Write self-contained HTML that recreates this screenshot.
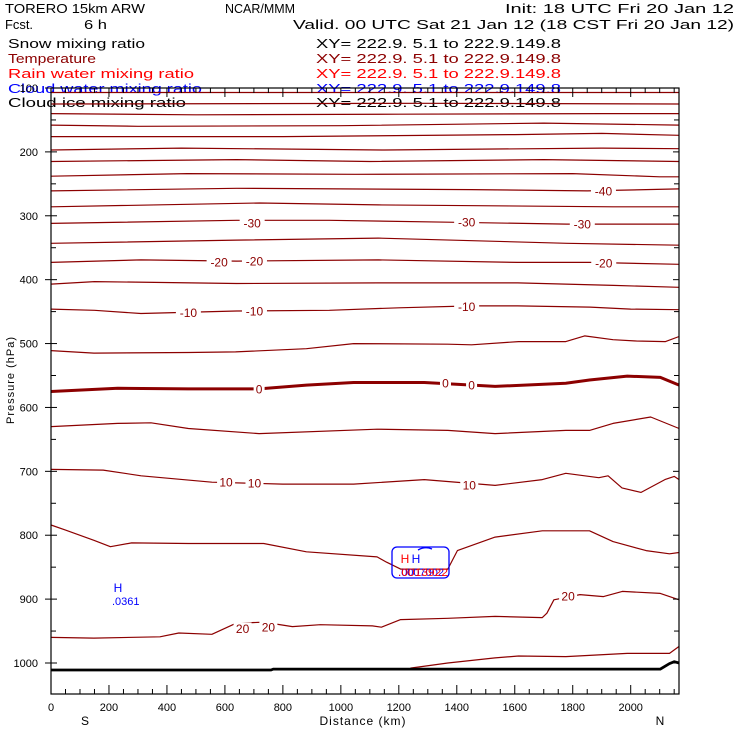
<!DOCTYPE html>
<html><head><meta charset="utf-8"><style>
html,body{margin:0;padding:0;background:#fff;}
svg{display:block;}
text{font-family:"Liberation Sans",sans-serif;}
.hd{font-family:"Liberation Sans",sans-serif;font-size:13px;}
</style></head><body>
<svg id="chart" width="740" height="740" viewBox="0 0 740 740" xmlns="http://www.w3.org/2000/svg">
<g>
<text class="hd" x="5" y="13" textLength="140" lengthAdjust="spacingAndGlyphs">TORERO   15km  ARW</text>
<text class="hd" x="225" y="13" textLength="70" lengthAdjust="spacingAndGlyphs">NCAR/MMM</text>
<text class="hd" x="505" y="13" textLength="229" lengthAdjust="spacingAndGlyphs">Init: 18 UTC Fri 20 Jan 12</text>
<text class="hd" x="5" y="29" textLength="28" lengthAdjust="spacingAndGlyphs">Fcst.</text>
<text class="hd" x="84" y="29" textLength="23" lengthAdjust="spacingAndGlyphs">6 h</text>
<text class="hd" x="293" y="29" textLength="441" lengthAdjust="spacingAndGlyphs">Valid. 00 UTC Sat 21 Jan 12 (18 CST Fri 20 Jan 12)</text>
<text class="hd" x="8" y="48" textLength="137" lengthAdjust="spacingAndGlyphs" fill="#000">Snow mixing ratio</text>
<text class="hd" x="8" y="63" textLength="88" lengthAdjust="spacingAndGlyphs" fill="#8c0000">Temperature</text>
<text class="hd" x="8" y="78" textLength="186" lengthAdjust="spacingAndGlyphs" fill="#ff0000">Rain water mixing ratio</text>
<text class="hd" x="8" y="93" textLength="194" lengthAdjust="spacingAndGlyphs" fill="#0000ff">Cloud water mixing ratio</text>
<text class="hd" x="8" y="107" textLength="178" lengthAdjust="spacingAndGlyphs" fill="#000">Cloud ice mixing ratio</text>
<text class="hd" x="316" y="48" textLength="245" lengthAdjust="spacingAndGlyphs" fill="#000">XY= 222.9.   5.1 to 222.9.149.8</text>
<text class="hd" x="316" y="63" textLength="245" lengthAdjust="spacingAndGlyphs" fill="#8c0000">XY= 222.9.   5.1 to 222.9.149.8</text>
<text class="hd" x="316" y="78" textLength="245" lengthAdjust="spacingAndGlyphs" fill="#ff0000">XY= 222.9.   5.1 to 222.9.149.8</text>
<text class="hd" x="316" y="93" textLength="245" lengthAdjust="spacingAndGlyphs" fill="#0000ff">XY= 222.9.   5.1 to 222.9.149.8</text>
<text class="hd" x="316" y="107" textLength="245" lengthAdjust="spacingAndGlyphs" fill="#000">XY= 222.9.   5.1 to 222.9.149.8</text>
</g>
<g id="plot"></g>
</svg>
<script>
// Data
const xTicks = [0,200,400,600,800,1000,1200,1400,1600,1800,2000];
const yTicks = [100,200,300,400,500,600,700,800,900,1000];
const tempContours = [
 [[0,107],[2167,107]],
 [[0,125],[1300,124],[2167,125]],
 [[0,140],[500,142],[1200,141],[1900,140],[2167,140]],
 [[0,158],[300,160],[1000,159],[1700,155],[2167,158]],
 [[0,176],[800,176],[1600,173],[1900,171],[2167,174]],
 [[0,197],[450,194],[1150,197],[1900,194],[2167,195]],
 [[0,215],[640,212],[1100,215],[1700,212],[2167,215]],
 [[0,238],[470,234],[1050,235],[1800,234],[2100,239],[2167,239]],
 [[0,261],[640,257],[1450,259],[1850,261],[2167,258]],
 [[0,286],[720,280],[1130,283],[1940,286],[2167,286]],
 [[0,312],[640,307],[960,307],[1370,310],[1780,313],[2167,313]],
 [[0,343],[640,338],[1130,335],[1780,343],[2167,346]],
 [[0,373],[310,369],[640,371],[1130,369],[1610,373],[1860,373],[2167,376]],
 [[0,407],[150,403],[640,406],[1130,405],[1610,405],[1940,409],[2167,412]],
 [[0,446],[150,448],[310,453],[640,449],[960,448],[1200,444],[1450,441],[1610,441],[1860,443],[2000,446],[2167,447]],
 [[0,511],[148,515],[474,514],[637,513],[881,508],[1044,500],[1369,501],[1451,502],[1613,497],[1776,497],[1841,488],[1939,494],[2020,496],[2120,497],[2167,489]],
 [[0,630],[230,625],[345,624],[474,633],[718,641],[1125,634],[1369,636],[1532,641],[1776,636],[1858,636],[1939,625],[2069,615],[2167,633]],
 [[0,697],[180,698],[311,707],[555,717],[799,720],[1044,720],[1288,713],[1532,722],[1695,713],[1776,703],[1890,710],[1922,707],[1970,726],[2036,733],[2118,713],[2150,708],[2167,713]],
 [[0,784],[50,792],[148,808],[205,818],[278,812],[474,813],[734,813],[881,826],[1125,834],[1157,842],[1206,853],[1369,853],[1402,824],[1532,803],[1695,793],[1858,793],[1939,810],[2053,824],[2134,829],[2167,827]],
 [[0,960],[148,961],[376,959],[441,953],[555,955],[637,938],[734,936],[833,943],[929,940],[1109,942],[1140,944],[1206,932],[1369,930],[1532,927],[1695,929],[1711,922],[1735,901],[1825,893],[1906,896],[1971,888],[2102,891],[2167,901]],
 [[1240,1008],[1369,1000],[1532,992],[1613,989],[1776,990],[1988,985],[2134,985],[2167,974]]
];
const zeroContour = [[0,575],[230,570],[474,571],[718,571],[881,565],[1044,561],[1288,561],[1532,567],[1776,562],[1858,557],[1988,551],[2102,553],[2167,565]];
const groundLine = [[0,1011],[759,1011],[767,1009.5],[2102,1009.5],[2134,1001],[2150,998],[2167,1000]];
const contourLabels = [
 [1906,261,"-40"],[694,311,"-30"],[1434,310,"-30"],[1833,313,"-30"],
 [580,372,"-20"],[702,371,"-20"],[1907,374,"-20"],
 [474,451,"-10"],[702,449,"-10"],[1434,442,"-10"],
 [718,571,"0"],[1361,562,"0"],[1451,565,"0"],
 [604,717,"10"],[702,718,"10"],[1443,721,"10"],
 [661,946,"20"],[750,944,"20"],[1784,895,"20"]
];
const maxLabels = [[230,"H",".0361","#0000ff"]];

// Axes
const X0=51,X1=679,Y0=88,Y1=694;
const KM_MAX=2167, P_TOP=100;
function xs(km){return X0+km*(630.7-51)/2000;}
function ys(p){return Y0+(p-P_TOP)*(663-88)/900;}
const NS="http://www.w3.org/2000/svg";
const plot=document.getElementById('plot');
function mk(tag,attrs,parent){const e=document.createElementNS(NS,tag);for(const k in attrs)e.setAttribute(k,attrs[k]);(parent||plot).appendChild(e);return e;}
function pathD(pts){return pts.map((p,i)=>(i?'L':'M')+xs(p[0]).toFixed(1)+' '+ys(p[1]).toFixed(1)).join(' ');}

tempContours.forEach((c,i)=>{
 const e=mk('path',{d:pathD(c),fill:'none',stroke:'#8c0000','stroke-width':1.2,'stroke-linejoin':'round'});
 
 
});
const z=mk('path',{d:pathD(zeroContour),fill:'none',stroke:'#8c0000','stroke-width':3});


const g=mk('path',{d:pathD(groundLine),fill:'none',stroke:'#000','stroke-width':2.8});



contourLabels.forEach(l=>{
 const cx=xs(l[0]),cy=ys(l[1]);
 const w=l[2].length*7+4;
 const r=mk('rect',{x:cx-w/2,y:cy-6,width:w,height:12,fill:'#fff'});
 
 
 const t=mk('text',{x:cx,y:cy+4.5,'text-anchor':'middle','font-size':12,fill:'#8c0000'});
 t.textContent=l[2];
 
 
});

const box=mk('rect',{x:392,y:547,width:57,height:31,rx:5,fill:'none',stroke:'#0000ff','stroke-width':1.3});


const arc=mk('path',{d:'M418 550 Q425 546 432 549',fill:'none',stroke:'#0000ff','stroke-width':1.3});


[[405,'#ff0000'],[416,'#0000ff']].forEach(h=>{
 const t=mk('text',{x:h[0],y:563,'text-anchor':'middle','font-size':12,fill:h[1]});
 t.textContent='H';
 
 
});
const v1=mk('text',{x:398,y:576,'font-size':11,fill:'#0000ff',textLength:46,lengthAdjust:'spacingAndGlyphs'});
v1.textContent='.0007002';


const v2=mk('text',{x:398,y:576,'font-size':11,fill:'#ff0000',textLength:50,lengthAdjust:'spacingAndGlyphs'});
v2.textContent='.0013922';



maxLabels.forEach(m=>{
 const t=mk('text',{x:118,y:592,'text-anchor':'middle','font-size':12,fill:m[3]});
 t.textContent=m[1];
 
 
 const t2=mk('text',{x:112,y:605,'font-size':11,fill:m[3]});
 t2.textContent=m[2];
 
 
});

const fr=mk('rect',{x:X0,y:Y0,width:X1-X0,height:Y1-Y0,fill:'none',stroke:'#000','stroke-width':1.2});


for(let km=0;km<=KM_MAX;km+=50){
 const major=km%200===0, x=xs(km), L=major?9:5;
 const a=mk('line',{x1:x,y1:Y1,x2:x,y2:Y1-L,stroke:'#000','stroke-width':1});
 
 
 const b=mk('line',{x1:x,y1:Y0,x2:x,y2:Y0+L,stroke:'#000','stroke-width':1});
 
 
}
xTicks.forEach(v=>{
 const t=mk('text',{x:xs(v),y:711,'text-anchor':'middle','font-size':11});
 t.textContent=v;
 
 
});
for(let p=100;p<=1050;p+=50){
 const y=ys(p); if(y>Y1)continue;
 const major=p%100===0, L=major?6:5;
 const a=mk('line',{x1:X0-(major?6:0),y1:y,x2:X0+L,y2:y,stroke:'#000','stroke-width':1});
 
 
 const b=mk('line',{x1:X1-L,y1:y,x2:X1,y2:y,stroke:'#000','stroke-width':1});
 
 
}
yTicks.forEach(v=>{
 const t=mk('text',{x:38,y:ys(v)+4,'text-anchor':'end','font-size':11});
 t.textContent=v;
 
 
});
const yt=mk('text',{x:14,y:380,'text-anchor':'middle','font-size':11,transform:'rotate(-90 14 380)','letter-spacing':'1'});
yt.textContent='Pressure (hPa)';


const xt=mk('text',{x:363,y:725,'text-anchor':'middle','font-size':12,'letter-spacing':'1'});
xt.textContent='Distance (km)';


const sL=mk('text',{x:85,y:725,'text-anchor':'middle','font-size':12});
sL.textContent='S';


const nL=mk('text',{x:660,y:725,'text-anchor':'middle','font-size':12});
nL.textContent='N';


</script>
</body></html>
